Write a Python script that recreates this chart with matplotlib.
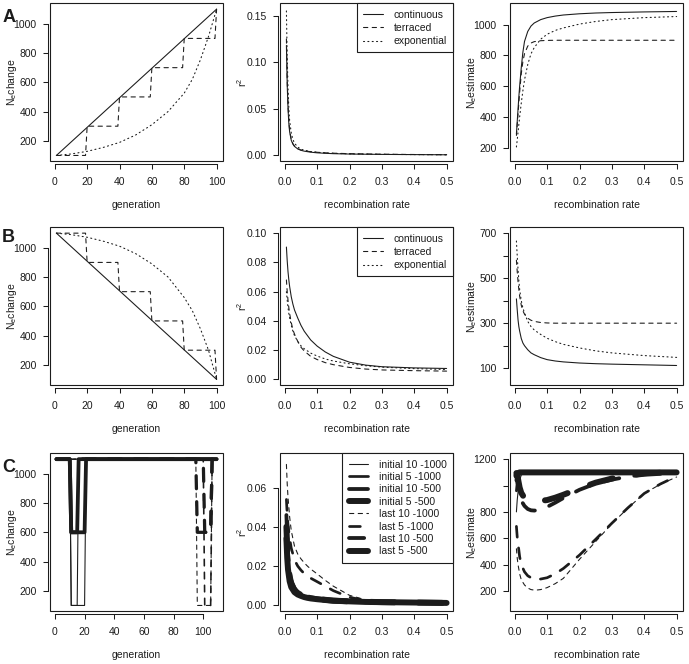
import matplotlib
matplotlib.use('Agg')
import matplotlib.pyplot as plt
from matplotlib.patches import Rectangle
from matplotlib.lines import Line2D

plt.rcParams['font.family'] = ['Liberation Sans', 'DejaVu Sans']
plt.rcParams['mathtext.fontset'] = 'custom'
plt.rcParams['mathtext.rm'] = 'Liberation Sans'
plt.rcParams['mathtext.it'] = 'Liberation Sans:italic'
plt.rcParams['mathtext.default'] = 'regular'
plt.rcParams['lines.scale_dashes'] = True

INK = '#1c1c1c'

# ---------------- data ----------------
# Row A (increase) / Row B (decrease): Ne change over generations
genA_cont = [1, 100]
NeA_cont = [100, 1100]
genA_terr = [1, 19, 20, 39, 40, 59, 60, 79, 80, 99, 100]
NeA_terr = [100, 100, 300, 300, 500, 500, 700, 700, 900, 900, 1100]
genA_expo = [1, 10, 20, 30, 40, 50, 60, 70, 80, 85, 90, 95, 100]
NeA_expo = [100, 110, 128, 155, 189, 240, 310, 400, 526, 620, 754, 913, 1100]

genB_cont = [1, 100]
NeB_cont = [1100, 100]
genB_terr = [1, 19, 20, 39, 40, 59, 60, 79, 80, 99, 100]
NeB_terr = [1100, 1100, 900, 900, 700, 700, 500, 500, 300, 300, 100]
genB_expo = [1, 10, 20, 30, 40, 50, 60, 70, 80, 85, 90, 95, 100]
NeB_expo = [1100, 1090, 1072, 1045, 1011, 960, 890, 800, 660, 570, 446, 300, 100]

rec = [0.005, 0.0075, 0.01, 0.0125, 0.015, 0.02, 0.025, 0.03, 0.04, 0.05,
       0.06, 0.08, 0.1, 0.125, 0.15, 0.2, 0.25, 0.3, 0.4, 0.5]

r2A_cont = [0.118, 0.075, 0.05, 0.034, 0.025, 0.016, 0.012, 0.0095, 0.0068, 0.0053,
            0.0044, 0.0033, 0.0026, 0.0021, 0.0017, 0.0013, 0.0011, 0.0009, 0.0007, 0.0005]
r2A_terr = [0.125, 0.08, 0.054, 0.037, 0.027, 0.017, 0.0125, 0.0098, 0.007, 0.0056,
            0.0048, 0.0038, 0.0032, 0.0026, 0.0022, 0.0017, 0.0014, 0.0011, 0.0008, 0.0006]
r2A_expo = [0.155, 0.105, 0.072, 0.05, 0.037, 0.024, 0.017, 0.013, 0.0088, 0.0066,
            0.0054, 0.004, 0.0032, 0.0025, 0.0021, 0.0015, 0.0012, 0.001, 0.0007, 0.00055]

estA_cont = [290, 370, 450, 530, 600, 720, 820, 890, 955, 990,
             1010, 1032, 1045, 1055, 1062, 1070, 1075, 1078, 1082, 1085]
estA_terr = [280, 350, 420, 490, 560, 680, 760, 810, 860, 880,
             889, 895, 897, 898, 898, 898, 898, 898, 898, 898]
estA_expo = [205, 250, 300, 350, 400, 490, 570, 640, 740, 810,
             850, 905, 937, 962, 978, 1003, 1020, 1032, 1045, 1052]

r2B_cont = [0.0905, 0.081, 0.0735, 0.068, 0.0635, 0.0565, 0.0515, 0.0475, 0.042, 0.037,
            0.033, 0.027, 0.0228, 0.0188, 0.0158, 0.0118, 0.0098, 0.0087, 0.0079, 0.0075]
r2B_terr = [0.068, 0.06, 0.054, 0.049, 0.045, 0.039, 0.034, 0.031, 0.026, 0.022,
            0.0195, 0.0158, 0.0136, 0.0115, 0.0101, 0.0082, 0.0071, 0.0065, 0.006, 0.0057]
r2B_expo = [0.06, 0.054, 0.049, 0.045, 0.042, 0.037, 0.033, 0.03, 0.026, 0.023,
            0.021, 0.018, 0.016, 0.014, 0.0126, 0.0107, 0.0094, 0.0084, 0.0074, 0.0068]

estB_cont = [408, 360, 315, 285, 265, 232, 212, 200, 182, 168,
             160, 147, 138, 132, 128, 123, 120, 118, 115, 112]
estB_terr = [580, 530, 485, 450, 420, 380, 355, 340, 322, 313,
             308, 303, 301, 300, 300, 300, 300, 300, 300, 300]
estB_expo = [665, 600, 540, 490, 450, 400, 368, 345, 308, 285,
             270, 250, 233, 218, 206, 190, 177, 168, 156, 148]

# Row C: bottlenecks
genC_init10 = [1, 10, 11, 20, 21, 109]
genC_init5 = [1, 10, 11, 15, 16, 109]
genC_last10 = [1, 95, 96, 105, 106, 109]
genC_last5 = [1, 100, 101, 105, 106, 109]
NeC_1000 = [1100, 1100, 100, 100, 1100, 1100]
NeC_500 = [1100, 1100, 600, 600, 1100, 1100]

recC = [0.005, 0.0075, 0.01, 0.015, 0.02, 0.03, 0.04, 0.05, 0.06, 0.07, 0.08,
        0.1, 0.125, 0.15, 0.2, 0.25, 0.3, 0.35, 0.4, 0.45, 0.5]

r2C_i10_1000 = [0.037, 0.027, 0.021, 0.0135, 0.0102, 0.0073, 0.0058, 0.005, 0.0044, 0.004, 0.0036,
                0.0031, 0.0026, 0.0022, 0.0018, 0.0015, 0.0013, 0.0012, 0.0011, 0.001, 0.0009]
r2C_i5_1000 = [0.036, 0.026, 0.02, 0.013, 0.0098, 0.007, 0.0056, 0.0048, 0.0042, 0.0038, 0.0035,
               0.003, 0.0025, 0.0021, 0.0017, 0.0015, 0.0013, 0.0012, 0.0011, 0.001, 0.0009]
r2C_i10_500 = [0.035, 0.025, 0.019, 0.0125, 0.0094, 0.0067, 0.0054, 0.0046, 0.004, 0.0036, 0.0033,
               0.0029, 0.0024, 0.0021, 0.0017, 0.0014, 0.0013, 0.0012, 0.0011, 0.001, 0.0009]
r2C_i5_500 = [0.034, 0.024, 0.018, 0.012, 0.009, 0.0064, 0.0052, 0.0045, 0.0039, 0.0035, 0.0032,
              0.0028, 0.0024, 0.002, 0.0017, 0.0014, 0.0013, 0.0012, 0.0011, 0.001, 0.0009]
r2C_l10_1000 = [0.072, 0.062, 0.055, 0.045, 0.038, 0.03, 0.026, 0.0235, 0.0215, 0.0198, 0.0183,
                0.0158, 0.0125, 0.0095, 0.0048, 0.0025, 0.0016, 0.0012, 0.001, 0.0009, 0.0009]
r2C_l5_1000 = [0.054, 0.046, 0.041, 0.034, 0.029, 0.023, 0.0198, 0.0177, 0.016, 0.0147, 0.0136,
               0.0118, 0.0095, 0.0072, 0.0038, 0.0021, 0.0014, 0.0011, 0.001, 0.0009, 0.0009]
r2C_l10_500 = [0.046, 0.034, 0.026, 0.017, 0.0125, 0.0085, 0.0067, 0.0056, 0.0048, 0.0043, 0.0039,
               0.0033, 0.0027, 0.0023, 0.0018, 0.0015, 0.0013, 0.0012, 0.0011, 0.001, 0.0009]
r2C_l5_500 = [0.04, 0.029, 0.022, 0.0145, 0.0108, 0.0075, 0.006, 0.005, 0.0044, 0.0039, 0.0035,
              0.003, 0.0025, 0.0021, 0.0017, 0.0015, 0.0013, 0.0012, 0.0011, 0.001, 0.0009]

estC_i10_1000 = [800, 890, 950, 1040, 1080, 1095, 1100, 1100, 1100, 1100, 1100,
                 1100, 1100, 1100, 1100, 1100, 1100, 1100, 1100, 1100, 1100]
estC_i5_1000 = [960, 1020, 1060, 1090, 1098, 1100, 1100, 1100, 1100, 1100, 1100,
                1100, 1100, 1100, 1100, 1100, 1100, 1100, 1100, 1100, 1100]
estC_i10_500 = [1040, 1070, 1085, 1097, 1100, 1100, 1100, 1100, 1100, 1100, 1100,
                1100, 1100, 1100, 1100, 1100, 1100, 1100, 1100, 1100, 1100]
estC_i5_500 = [1075, 1088, 1095, 1100, 1100, 1100, 1100, 1100, 1100, 1100, 1100,
               1100, 1100, 1100, 1100, 1100, 1100, 1100, 1100, 1100, 1100]
estC_l10_1000 = [520, 450, 400, 330, 285, 245, 222, 210, 206, 207, 210,
                 225, 255, 295, 440, 575, 710, 830, 940, 1010, 1065]
estC_l5_1000 = [690, 610, 560, 460, 400, 345, 315, 300, 292, 289, 290,
                300, 330, 370, 472, 592, 714, 832, 940, 1012, 1070]
estC_l10_500 = [1090, 1040, 1000, 930, 885, 845, 822, 812, 810, 812, 818,
                838, 870, 905, 968, 1015, 1045, 1068, 1085, 1095, 1100]
estC_l5_500 = [1095, 1075, 1050, 985, 945, 905, 890, 885, 883, 883, 884,
               890, 908, 930, 978, 1022, 1053, 1076, 1090, 1097, 1100]

labels_abc = ['continuous', 'terraced', 'exponential']
labels_C = ['initial 10 -1000', 'initial 5 -1000', 'initial 10 -500', 'initial 5 -500',
            'last 10 -1000', 'last 5 -1000', 'last 10 -500', 'last 5 -500']

gen_ticks = [0, 20, 40, 60, 80, 100]
rec_ticks = [0.0, 0.1, 0.2, 0.3, 0.4, 0.5]

# ---------------- styling helpers ----------------
W, H = 689, 664
fig = plt.figure(figsize=(W / 100, H / 100), dpi=100)
FS = 7.5
PX = 0.72  # points per pixel
SOLID = '-'
DASH = (0, (4, 4))
DOT = (0, (1, 3))
LW = 0.78  # R lwd=1

col_left = [50, 280, 510]
row_top = [3.3, 227.3, 453.3]
AW, AH = 173, 158


def make_ax(r, c):
    l = col_left[c] / W
    b = 1 - (row_top[r] + AH) / H
    return fig.add_axes([l, b, AW / W, AH / H])


def rpad(lo, hi):
    d = hi - lo
    return lo - 0.04 * d, hi + 0.04 * d


def style(ax, xt, xtl, yt, ytl, xlab, ylab):
    ax.set_xticks(xt, labels=xtl)
    ax.set_yticks(yt, labels=ytl, rotation=90, va='center', ha='right')
    for s in ['top', 'right']:
        ax.spines[s].set_visible(False)
    ax.spines['left'].set_position(('outward', 2.3 * PX))
    ax.spines['bottom'].set_position(('outward', 2.3 * PX))
    ax.spines['left'].set_bounds(yt[0], yt[-1])
    ax.spines['bottom'].set_bounds(xt[0], xt[-1])
    for s in ['left', 'bottom']:
        ax.spines[s].set_linewidth(0.75)
        ax.spines[s].set_color(INK)
    ax.add_patch(Rectangle((0, 0), 1, 1, transform=ax.transAxes, fill=False,
                           lw=0.8, ec=INK, clip_on=False, zorder=6))
    ax.tick_params(axis='both', direction='out', length=5 * PX, width=0.75,
                   color=INK, labelcolor=INK, labelsize=FS)
    ax.tick_params(axis='x', pad=8.2 * PX)
    ax.tick_params(axis='y', pad=6 * PX)
    ax.set_xlabel(xlab, fontsize=FS, color=INK)
    ax.set_ylabel(ylab, fontsize=FS, color=INK)
    ax.xaxis.set_label_coords(0.5, -39 / AH)
    ax.yaxis.set_label_coords(-31 / AW, 0.5)
    ax.patch.set_alpha(0)


def line(ax, x, y, ls, lwd):
    ax.plot(x, y, color=INK, linestyle=ls, lw=lwd * LW,
            dash_capstyle='round', solid_capstyle='round', solid_joinstyle='round')


def legend(ax, labels, styles, widths, spacing):
    hs = [Line2D([], [], color=INK, linestyle=s, lw=w * LW,
                 dash_capstyle='round', solid_capstyle='round')
          for s, w in zip(styles, widths)]
    lg = ax.legend(hs, labels, loc='upper right', borderaxespad=0, fontsize=FS,
                   frameon=True, fancybox=False, framealpha=1, edgecolor=INK,
                   handlelength=1.9, handletextpad=1.0, borderpad=0.6,
                   labelspacing=spacing, labelcolor=INK)
    lg.get_frame().set_linewidth(0.8)
    lg.set_zorder(7)


gen_tl = [str(v) for v in gen_ticks]
rec_tl = ['%.1f' % v for v in rec_ticks]
Ne_lab = 'N$_e$change'
est_lab = 'N$_e$estimate'
r2_lab = '$r^2$'

# ---------- Row A ----------
ax = make_ax(0, 0)
line(ax, genA_cont, NeA_cont, SOLID, 1)
line(ax, genA_terr, NeA_terr, DASH, 1)
line(ax, genA_expo, NeA_expo, DOT, 1)
ax.set_xlim(*rpad(1, 100)); ax.set_ylim(*rpad(100, 1100))
yt = [200, 400, 600, 800, 1000]
style(ax, gen_ticks, gen_tl, yt, [str(v) for v in yt], 'generation', Ne_lab)

ax = make_ax(0, 1)
line(ax, rec, r2A_cont, SOLID, 1)
line(ax, rec, r2A_terr, DASH, 1)
line(ax, rec, r2A_expo, DOT, 1)
ax.set_xlim(*rpad(0.005, 0.5)); ax.set_ylim(-0.0065, 0.1632)
yt = [0.0, 0.05, 0.10, 0.15]
style(ax, rec_ticks, rec_tl, yt, ['%.2f' % v for v in yt], 'recombination rate', r2_lab)
legend(ax, labels_abc, [SOLID, DASH, DOT], [1, 1, 1], 0.32)

ax = make_ax(0, 2)
line(ax, rec, estA_cont, SOLID, 1)
line(ax, rec, estA_terr, DASH, 1)
line(ax, rec, estA_expo, DOT, 1)
ax.set_xlim(*rpad(0.005, 0.5)); ax.set_ylim(112, 1138)
yt = [200, 400, 600, 800, 1000]
style(ax, rec_ticks, rec_tl, yt, [str(v) for v in yt], 'recombination rate', est_lab)

# ---------- Row B ----------
ax = make_ax(1, 0)
line(ax, genB_cont, NeB_cont, SOLID, 1)
line(ax, genB_terr, NeB_terr, DASH, 1)
line(ax, genB_expo, NeB_expo, DOT, 1)
ax.set_xlim(*rpad(1, 100)); ax.set_ylim(*rpad(100, 1100))
yt = [200, 400, 600, 800, 1000]
style(ax, gen_ticks, gen_tl, yt, [str(v) for v in yt], 'generation', Ne_lab)

ax = make_ax(1, 1)
line(ax, rec, r2B_cont, SOLID, 1)
line(ax, rec, r2B_terr, DASH, 1)
line(ax, rec, r2B_expo, DOT, 1)
ax.set_xlim(*rpad(0.005, 0.5)); ax.set_ylim(*rpad(0.0, 0.1))
yt = [0.0, 0.02, 0.04, 0.06, 0.08, 0.10]
style(ax, rec_ticks, rec_tl, yt, ['%.2f' % v for v in yt], 'recombination rate', r2_lab)
legend(ax, labels_abc, [SOLID, DASH, DOT], [1, 1, 1], 0.32)

ax = make_ax(1, 2)
line(ax, rec, estB_cont, SOLID, 1)
line(ax, rec, estB_terr, DASH, 1)
line(ax, rec, estB_expo, DOT, 1)
ax.set_xlim(*rpad(0.005, 0.5)); ax.set_ylim(*rpad(50, 700))
yt = [100, 200, 300, 400, 500, 600, 700]
style(ax, rec_ticks, rec_tl, yt, [str(v) if v % 200 == 100 else '' for v in yt],
      'recombination rate', est_lab)

# ---------- Row C ----------
ax = make_ax(2, 0)
line(ax, genC_init10, NeC_1000, SOLID, 1)
line(ax, genC_init5, NeC_1000, SOLID, 1)
line(ax, genC_init10, NeC_500, SOLID, 3.5)
line(ax, genC_init5, NeC_500, SOLID, 3.5)
line(ax, genC_last10, NeC_1000, DASH, 1)
line(ax, genC_last5, NeC_1000, DASH, 1.5)
line(ax, genC_last10, NeC_500, DASH, 3)
line(ax, genC_last5, NeC_500, DASH, 3)
ax.set_xlim(*rpad(1, 109)); ax.set_ylim(*rpad(100, 1100))
yt = [200, 400, 600, 800, 1000]
style(ax, gen_ticks, gen_tl, yt, [str(v) for v in yt], 'generation', Ne_lab)

lwdC = [1, 2.5, 3.5, 5.5, 1, 2.5, 3.5, 5.5]
lsC = [SOLID] * 4 + [DASH] * 4

ax = make_ax(2, 1)
r2C = [r2C_i10_1000, r2C_i5_1000, r2C_i10_500, r2C_i5_500,
       r2C_l10_1000, r2C_l5_1000, r2C_l10_500, r2C_l5_500]
for ys, s, w in zip(r2C, lsC, lwdC):
    line(ax, recC, ys, s, w)
ax.set_xlim(*rpad(0.005, 0.5)); ax.set_ylim(-0.0034, 0.0777)
yt = [0.0, 0.02, 0.04, 0.06]
style(ax, rec_ticks, rec_tl, yt, ['%.2f' % v for v in yt], 'recombination rate', r2_lab)
legend(ax, labels_C, lsC, lwdC, 0.23)

ax = make_ax(2, 2)
estC = [estC_i10_1000, estC_i5_1000, estC_i10_500, estC_i5_500,
        estC_l10_1000, estC_l5_1000, estC_l10_500, estC_l5_500]
for ys, s, w in zip(estC, lsC, lwdC):
    line(ax, recC, ys, s, w)
ax.set_xlim(*rpad(0.005, 0.5)); ax.set_ylim(45, 1245)
yt = [200, 400, 600, 800, 1000, 1200]
style(ax, rec_ticks, rec_tl, yt, [str(v) if v != 1000 else '' for v in yt],
      'recombination rate', est_lab)

# panel letters
for t, (x, y) in zip(['A', 'B', 'C'], [(9, 17.5), (8.5, 238), (8.5, 467)]):
    fig.text(x / W, 1 - y / H, t, fontsize=13, fontweight='bold', color=INK,
             ha='center', va='center')

fig.savefig('out.png', dpi=100)
